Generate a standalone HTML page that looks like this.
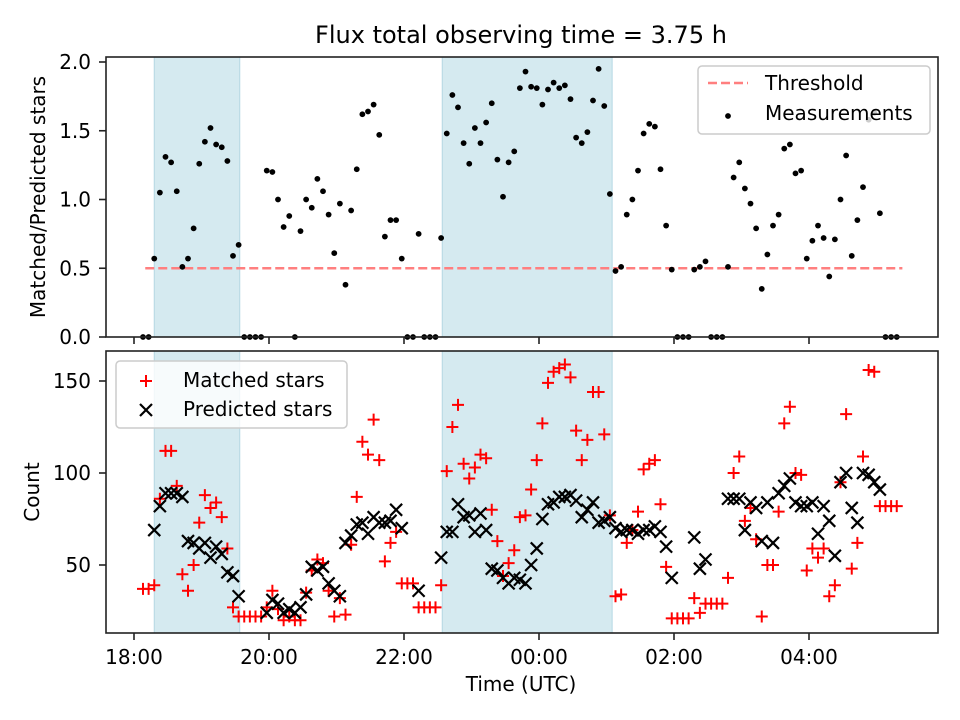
<!DOCTYPE html>
<html><head><meta charset="utf-8"><style>
html,body{margin:0;padding:0;background:#fff;}
svg{display:block;font-family:"DejaVu Sans","Liberation Sans",sans-serif;}
</style></head><body>
<svg id="chart" width="960" height="720" viewBox="0 0 960 720" xmlns="http://www.w3.org/2000/svg">
<rect width="960" height="720" fill="#fff"/>
<text x="521" y="43" font-size="24" text-anchor="middle">Flux total observing time = 3.75 h</text>
<g id="topPanel"></g><g id="botPanel"></g>
</svg>
<script>
// minutes after 18:00 UTC
const times=[8,13,18,23,28,33,38,43,48,53,58,63,68,73,78,83,88,93,98,103,108,113,118,123,128,133,138,143,148,153,158,163,168,173,178,183,188,193,198,203,208,213,218,223,228,233,238,243,248,253,258,263,268,273,278,283,288,293,298,303,308,313,318,323,328,333,338,343,348,353,358,363,368,373,378,383,388,393,398,403,408,413,418,423,428,433,438,443,448,453,458,463,468,473,478,483,488,493,498,503,508,513,518,523,528,533,538,543,548,553,558,563,568,573,578,583,588,593,598,603,608,613,618,623,628,633,638,643,648,653,658,663,668,673,678];
const flux=[0,0,.57,1.05,1.31,1.27,1.06,.51,.57,.79,1.26,1.42,1.52,1.40,1.38,1.28,.59,.67,0,0,0,0,1.21,1.20,1.00,.80,.88,0,.77,1.00,.94,1.15,1.06,.89,.61,.97,.38,.92,1.22,1.62,1.64,1.69,1.47,.73,.85,.85,.57,0,0,.75,0,0,0,.72,1.48,1.76,1.67,1.41,1.26,1.52,1.41,1.56,1.70,1.29,1.02,1.27,1.35,1.81,1.93,1.82,1.81,1.69,1.80,1.85,1.81,1.83,1.73,1.45,1.41,1.49,1.72,1.95,1.68,1.04,.48,.51,.89,1.00,1.21,1.48,1.55,1.53,1.22,.81,.49,0,0,0,.49,.51,.55,0,0,0,.51,1.16,1.27,1.08,.97,.79,.35,.60,.81,.89,1.37,1.40,1.19,1.21,.57,.70,.81,.72,.44,.71,1.00,1.32,.59,.85,1.09,1.58,1.63,.90,0,0,0];
const matched=[37,37,39,86,112,112,93,45,36,50,73,88,81,84,76,59,27,22,22,22,22,22,27,36,26,20,22,20,20,35,47,53,51,36,22,32,23,61,87,117,110,129,107,52,62,68,40,40,40,27,27,27,27,39,101,125,137,105,97,103,110,108,80,63,44,51,58,76,77,91,107,127,149,155,157,159,152,123,107,118,144,144,121,77,33,34,62,69,79,102,105,107,83,49,21,21,21,21,32,24,29,29,29,29,43,100,109,74,81,64,22,50,50,79,127,136,100,99,47,59,54,59,33,39,95,132,48,62,109,156,155,82,82,82,82];
const predicted=[null,null,69,82,89,89,89,87,63,62,59,62,54,60,56,46,44,33,null,null,null,null,24,31,29,24,26,24,27,34,49,47,49,40,36,33,62,66,72,73,67,76,73,73,74,80,70,null,null,36,null,null,null,54,68,68,83,76,77,68,78,69,48,47,43,40,43,42,40,50,59,75,83,84,87,87,88,85,76,80,84,73,74,76,70,68,69,69,67,69,69,71,68,60,43,null,null,null,65,48,53,null,null,null,86,86,86,69,84,81,63,84,62,89,93,97,84,82,82,84,67,82,74,55,95,100,81,73,100,99,95,91,null,null,null];
const shadeStart=[18,274];
const shadeEnd=[94,425];
const threshold=0.5;
const thresholdRange=[10,683];
const xTickMinutes=[0,120,240,360,480,600];
const xTickLabels=["18:00","20:00","22:00","00:00","02:00","04:00"];
const topTicks=[0,0.5,1.0,1.5,2.0];
const botTicks=[50,100,150];

const NS="http://www.w3.org/2000/svg";
const L=106,R=938;
const X=m=>134+m*1.125;
const YT=v=>337-v*137.5;
const YB=c=>565-(c-50)*1.84;
function mk(p,tag,at,txt){const e=document.createElementNS(NS,tag);for(const k in at)e.setAttribute(k,at[k]);if(txt!==undefined)e.textContent=txt;p.appendChild(e);return e;}
const gTop=document.getElementById('topPanel'),gBot=document.getElementById('botPanel');

function panel(g,y0,y1,name){
  for(let i=0;i<shadeStart.length;i++){
    const r=mk(g,'rect',{x:X(shadeStart[i]),y:y0,width:X(shadeEnd[i])-X(shadeStart[i]),height:y1-y0,fill:'#d5eaf0',stroke:'#b5d8e3','stroke-width':1});
    
    
  }
}
panel(gTop,57,337,'top');
panel(gBot,351,633,'bottom');

const th=mk(gTop,'line',{x1:X(thresholdRange[0]),x2:X(thresholdRange[1]),y1:YT(threshold),y2:YT(threshold),stroke:'#ff7f7f','stroke-width':2.5,'stroke-dasharray':'9,4'});



for(let i=0;i<times.length;i++){
  const c=mk(gTop,'circle',{cx:X(times[i]),cy:YT(flux[i]),r:2.9,fill:'#000'});
  
  
}
for(let i=0;i<times.length;i++){
  const x=X(times[i]),y=YB(matched[i]),s=6;
  const p=mk(gBot,'path',{d:`M${x-s},${y}H${x+s}M${x},${y-s}V${y+s}`,stroke:'#f00','stroke-width':2,fill:'none'});
  
  
}
for(let i=0;i<times.length;i++){
  if(predicted[i]===null)continue;
  const x=X(times[i]),y=YB(predicted[i]),s=6;
  const p=mk(gBot,'path',{d:`M${x-s},${y-s}L${x+s},${y+s}M${x-s},${y+s}L${x+s},${y-s}`,stroke:'#000','stroke-width':2.2,fill:'none'});
  
  
}

function frame(g,y0,y1,name){
  const f=mk(g,'rect',{x:L,y:y0,width:R-L,height:y1-y0,fill:'none',stroke:'#222','stroke-width':1.6});
  
  
  for(let i=0;i<xTickMinutes.length;i++){
    const t=mk(g,'line',{x1:X(xTickMinutes[i]),x2:X(xTickMinutes[i]),y1:y1,y2:y1+7,stroke:'#222','stroke-width':1.6});
    
    
  }
}
frame(gTop,57,337,'top');
frame(gBot,351,633,'bottom');
for(let i=0;i<xTickMinutes.length;i++){
  const t=mk(gBot,'text',{x:X(xTickMinutes[i]),y:664,'font-size':20,'text-anchor':'middle'},xTickLabels[i]);
  
  
}
for(const v of topTicks){
  const y=YT(v);
  const l=mk(gTop,'line',{x1:L-7,x2:L,y1:y,y2:y,stroke:'#222','stroke-width':1.6});
  
  
  const t=mk(gTop,'text',{x:L-15,y:y+7,'font-size':20,'text-anchor':'end'},v.toFixed(1));
  
  
}
for(const v of botTicks){
  const y=YB(v);
  const l=mk(gBot,'line',{x1:L-7,x2:L,y1:y,y2:y,stroke:'#222','stroke-width':1.6});
  
  
  const t=mk(gBot,'text',{x:L-15,y:y+7,'font-size':20,'text-anchor':'end'},String(v));
  
  
}
let e;
e=mk(gTop,'text',{x:0,y:0,'font-size':20,'text-anchor':'middle',transform:'translate(45,197) rotate(-90)'},'Matched/Predicted stars');


e=mk(gBot,'text',{x:0,y:0,'font-size':20,'text-anchor':'middle',transform:'translate(39,492) rotate(-90)'},'Count');


e=mk(gBot,'text',{x:521,y:691,'font-size':20,'text-anchor':'middle'},'Time (UTC)');



e=mk(gTop,'rect',{x:698,y:66,width:232,height:68,rx:4,fill:'#fff','fill-opacity':0.8,stroke:'#ccc','stroke-width':1.5});


e=mk(gTop,'line',{x1:708,x2:748,y1:83,y2:83,stroke:'#ff7f7f','stroke-width':2.5,'stroke-dasharray':'9,4'});


e=mk(gTop,'text',{x:765,y:90,'font-size':20},'Threshold');


e=mk(gTop,'circle',{cx:728,cy:116,r:2.9,fill:'#000'});


e=mk(gTop,'text',{x:765,y:120,'font-size':20},'Measurements');



e=mk(gBot,'rect',{x:116,y:361,width:231,height:67,rx:4,fill:'#fff','fill-opacity':0.8,stroke:'#ccc','stroke-width':1.5});


e=mk(gBot,'path',{d:'M140,381H152M146,375V387',stroke:'#f00','stroke-width':2});


e=mk(gBot,'text',{x:183,y:387,'font-size':20},'Matched stars');


e=mk(gBot,'path',{d:'M140,404L152,416M140,416L152,404',stroke:'#000','stroke-width':2.2});


e=mk(gBot,'text',{x:183,y:416,'font-size':20},'Predicted stars');


</script>
</body></html>
